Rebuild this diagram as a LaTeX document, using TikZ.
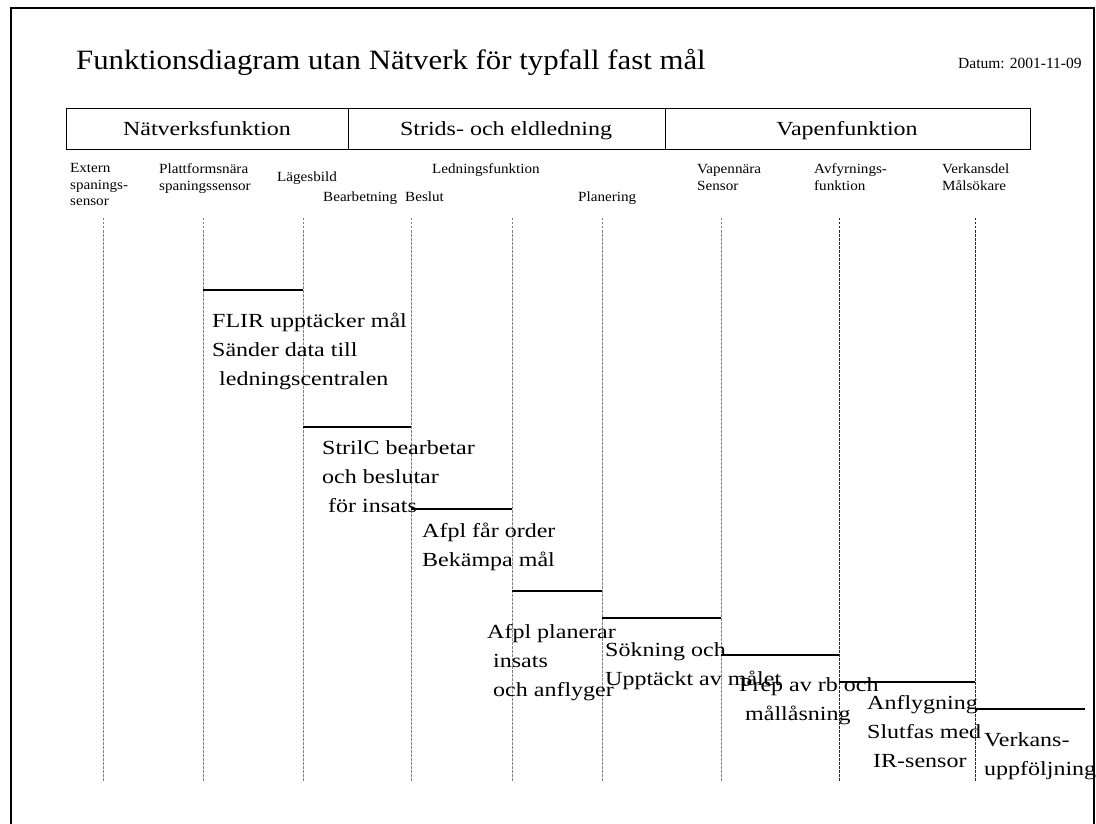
\documentclass[tikz,border=0pt]{standalone}
\usepackage{fontspec}
\setmainfont{Liberation Serif}
\newfontfamily\titlefont[FakeStretch=1.1]{Liberation Serif}
\newfontfamily\bodyfont[FakeStretch=1.2]{Liberation Serif}
\newfontfamily\labelfont[FakeStretch=1.08]{Liberation Serif}
\begin{document}
% multi-line nodes are placed by the baseline of their last line
\begin{tikzpicture}[x=1pt,y=-1pt,
  titletext/.style={font=\titlefont\fontsize{28}{34}\selectfont, anchor=base west, inner sep=0},
  datetext/.style={font=\fontsize{15.5}{19}\selectfont, anchor=base west, inner sep=0},
  headtext/.style={font=\bodyfont\fontsize{20}{24}\selectfont, anchor=base, inner sep=0},
  colname/.style={font=\labelfont\fontsize{14}{16.5}\selectfont, anchor=base west, inner sep=0, align=left},
  event/.style={font=\bodyfont\fontsize{20}{29}\selectfont, anchor=base west, inner sep=0, align=left},
  lifeline/.style={gray, line width=0.9pt, dash pattern=on 2.5pt off 1.5pt},
  stepline/.style={black, line width=1.3pt},
  frameline/.style={black, line width=2.6pt},
  headcell/.style={draw, line width=1.2pt, minimum height=41pt, inner sep=0}
]
\useasboundingbox (0,0) rectangle (1096,824);
\fill[white] (0,0) rectangle (1096,824);

% page frame
\draw[frameline] (11,830) -- (11,8) -- (1094,8) -- (1094,830);

% title and date
\node[titletext] (title) at (76,70) {Funktionsdiagram utan Nätverk för typfall fast mål};
\node[datetext] (date) at (958,69) {Datum: 2001-11-09};

% header row with the three function areas
\node[headcell, minimum width=282pt, anchor=north west] (hA) at (66,108) {};
\node[headcell, minimum width=317pt, anchor=north west] (hB) at (348,108) {};
\node[headcell, minimum width=365pt, anchor=north west] (hC) at (665,108) {};
\node[headtext] (hAt) at (207,136) {Nätverksfunktion};
\node[headtext] (hBt) at (506,136) {Strids- och eldledning};
\node[headtext] (hCt) at (847,136) {Vapenfunktion};

% column names
\node[colname] (c1) at (70,206) {Extern\\spanings-\\sensor};
\node[colname] (c2) at (159,190) {Plattformsnära\\spaningssensor};
\node[colname] (c3) at (277,182) {Lägesbild};
\node[colname] (c4) at (432,174) {Ledningsfunktion};
\node[colname] (c5) at (323,202) {Bearbetning};
\node[colname] (c6) at (405,202) {Beslut};
\node[colname] (c7) at (578,202) {Planering};
\node[colname] (c8) at (697,190) {Vapennära\\Sensor};
\node[colname] (c9) at (814,190) {Avfyrnings-\\funktion};
\node[colname] (c10) at (942,190) {Verkansdel\\Målsökare};

% lifelines
\foreach \n/\x in {L1/103,L2/203,L3/303,L4/411,L5/512,L6/602,L7/721,L8/839,L9/975}{
  \coordinate (\n) at (\x,218);
  \coordinate (\n b) at (\x,782);
}
\foreach \n in {L1,L2,L3,L4,L5,L6,L7}{\draw[lifeline] (\n) -- (\n b);}
\foreach \n in {L8,L9}{\draw[lifeline, black!85] (\n) -- (\n b);}
\coordinate (Lend) at (1085,218);

% hand-over steps between lifelines
\draw[stepline] (L2 |- 0,290) -- (L3 |- 0,290);
\draw[stepline] (L3 |- 0,427) -- (L4 |- 0,427);
\draw[stepline] (L4 |- 0,509) -- (L5 |- 0,509);
\draw[stepline] (L5 |- 0,591) -- (L6 |- 0,591);
\draw[stepline] (L6 |- 0,618) -- (L7 |- 0,618);
\draw[stepline] (L7 |- 0,655) -- (L8 |- 0,655);
\draw[stepline] (L8 |- 0,682) -- (L9 |- 0,682);
\draw[stepline] (L9 |- 0,709) -- (Lend |- 0,709);

% step descriptions
\node[event] (e1) at (212,385) {FLIR upptäcker mål\\Sänder data till\\\hspace*{7pt}ledningscentralen};
\node[event] (e2) at (322,512) {StrilC bearbetar\\och beslutar\\\hspace*{6pt}för insats};
\node[event] (e3) at (422,566) {Afpl får order\\Bekämpa mål};
\node[event] (e4) at (487,696) {Afpl planerar\\\hspace*{6pt}insats\\\hspace*{6pt}och anflyger};
\node[event] (e5) at (605,685) {Sökning och\\Upptäckt av målet};
\node[event] (e6) at (739,720) {Prep av rb och\\\hspace*{6pt}mållåsning};
\node[event] (e7) at (867,767) {Anflygning\\Slutfas med\\\hspace*{6pt}IR-sensor};
\node[event] (e8) at (984,775) {Verkans-\\uppföljning};
\end{tikzpicture}
\end{document}
